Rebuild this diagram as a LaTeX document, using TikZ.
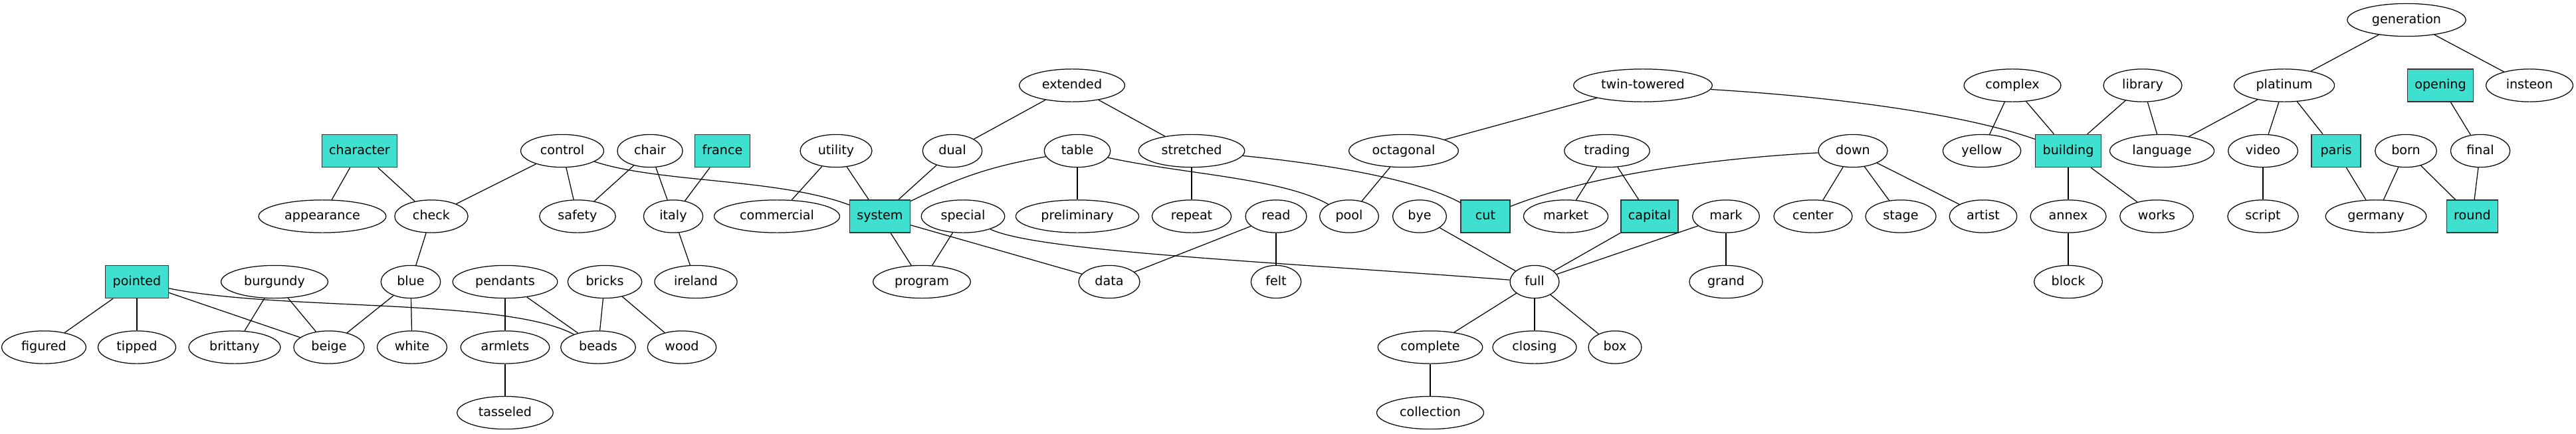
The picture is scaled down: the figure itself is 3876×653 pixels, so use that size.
\documentclass[tikz,border=0pt]{standalone}
\usepackage{fontspec}
\setmainfont{DejaVu Sans}
\usetikzlibrary{shapes.geometric}
\definecolor{turq}{HTML}{40E0D0}
\definecolor{boxline}{HTML}{333333}
\begin{document}
\begin{tikzpicture}[x=0.7310pt,y=-0.7310pt,
  nd/.style={ellipse,draw=black,line width=0.9pt,minimum width=54pt,minimum height=36pt,
    inner xsep=8pt,inner ysep=4pt,font=\fontsize{14}{16}\selectfont,text height=10.5pt,text depth=3pt},
  bx/.style={rectangle,draw=boxline,fill=turq,line width=1pt,minimum width=54pt,minimum height=36pt,
    inner xsep=8pt,inner ysep=4pt,font=\fontsize{14}{16}\selectfont,text height=10.5pt,text depth=3pt},
  ed/.style={line width=0.9pt,draw=black}]
\useasboundingbox (0,0) rectangle (3876,653);
% rank 0
\node[nd] (generation) at (3621,30) {generation};
% rank 1
\node[nd] (extended) at (1613,128.5) {extended};
\node[nd] (twintowered) at (2472,128.5) {twin-towered};
\node[nd] (complex) at (3028,128.5) {complex};
\node[nd] (library) at (3224,128.5) {library};
\node[nd] (platinum) at (3437,128.5) {platinum};
\node[bx] (opening) at (3672,128.5) {opening};
\node[nd] (insteon) at (3806,128.5) {insteon};
% rank 2
\node[bx] (character) at (541,227) {character};
\node[nd] (control) at (846,227) {control};
\node[nd] (chair) at (978,227) {chair};
\node[bx] (france) at (1087,227) {france};
\node[nd] (utility) at (1258,227) {utility};
\node[nd] (dual) at (1433,227) {dual};
\node[nd] (table) at (1621,227) {table};
\node[nd] (stretched) at (1793,227) {stretched};
\node[nd] (octagonal) at (2112,227) {octagonal};
\node[nd] (trading) at (2418,227) {trading};
\node[nd] (down) at (2788,227) {down};
\node[nd] (yellow) at (2982,227) {yellow};
\node[bx] (building) at (3112,227) {building};
\node[nd] (language) at (3253,227) {language};
\node[nd] (video) at (3405,227) {video};
\node[bx] (paris) at (3515,227) {paris};
\node[nd] (born) at (3620,227) {born};
\node[nd] (final) at (3732,227) {final};
% rank 3
\node[nd] (appearance) at (485,325.5) {appearance};
\node[nd] (check) at (649,325.5) {check};
\node[nd] (safety) at (869,325.5) {safety};
\node[nd] (italy) at (1013,325.5) {italy};
\node[nd] (commercial) at (1169,325.5) {commercial};
\node[bx] (system) at (1324,325.5) {system};
\node[nd] (special) at (1449,325.5) {special};
\node[nd] (preliminary) at (1621,325.5) {preliminary};
\node[nd] (repeat) at (1793,325.5) {repeat};
\node[nd] (read) at (1920,325.5) {read};
\node[nd] (pool) at (2030,325.5) {pool};
\node[nd] (bye) at (2136,325.5) {bye};
\node[bx] (cut) at (2235,325.5) {cut};
\node[nd] (market) at (2356,325.5) {market};
\node[bx] (capital) at (2482,325.5) {capital};
\node[nd] (mark) at (2597,325.5) {mark};
\node[nd] (center) at (2728,325.5) {center};
\node[nd] (stage) at (2860,325.5) {stage};
\node[nd] (artist) at (2984,325.5) {artist};
\node[nd] (annex) at (3112,325.5) {annex};
\node[nd] (works) at (3245,325.5) {works};
\node[nd] (script) at (3405,325.5) {script};
\node[nd] (germany) at (3575,325.5) {germany};
\node[bx] (round) at (3720,325.5) {round};
% rank 4
\node[bx] (pointed) at (206,424) {pointed};
\node[nd] (burgundy) at (413,424) {burgundy};
\node[nd] (blue) at (618,424) {blue};
\node[nd] (pendants) at (760,424) {pendants};
\node[nd] (bricks) at (910,424) {bricks};
\node[nd] (ireland) at (1047,424) {ireland};
\node[nd] (program) at (1387,424) {program};
\node[nd] (data) at (1669,424) {data};
\node[nd] (felt) at (1920,424) {felt};
\node[nd] (full) at (2309,424) {full};
\node[nd] (grand) at (2597,424) {grand};
\node[nd] (block) at (3112,424) {block};
% rank 5
\node[nd] (figured) at (66,522.5) {figured};
\node[nd] (tipped) at (206,522.5) {tipped};
\node[nd] (brittany) at (353,522.5) {brittany};
\node[nd] (beige) at (495,522.5) {beige};
\node[nd] (white) at (620,522.5) {white};
\node[nd] (armlets) at (760,522.5) {armlets};
\node[nd] (beads) at (900,522.5) {beads};
\node[nd] (wood) at (1026,522.5) {wood};
\node[nd] (complete) at (2152,522.5) {complete};
\node[nd] (closing) at (2309,522.5) {closing};
\node[nd] (box) at (2430,522.5) {box};
% rank 6
\node[nd] (tasseled) at (760,621) {tasseled};
\node[nd] (collection) at (2152,621) {collection};
% edges
\draw[ed] (character) -- (appearance);
\draw[ed] (character) -- (check);
\draw[ed] (check) -- (blue);
\draw[ed] (pointed) -- (figured);
\draw[ed] (pointed) -- (tipped);
\draw[ed] (pointed) -- (beige);
\draw[ed] (pointed) .. controls (420,468) and (760,448) .. (beads);
\draw[ed] (burgundy) -- (brittany);
\draw[ed] (burgundy) -- (beige);
\draw[ed] (blue) -- (beige);
\draw[ed] (blue) -- (white);
\draw[ed] (control) -- (check);
\draw[ed] (control) -- (safety);
\draw[ed] (control) .. controls (990,275) and (1170,268) .. (system);
\draw[ed] (chair) -- (safety);
\draw[ed] (chair) -- (italy);
\draw[ed] (france) -- (italy);
\draw[ed] (italy) -- (ireland);
\draw[ed] (utility) -- (commercial);
\draw[ed] (utility) -- (system);
\draw[ed] (pendants) -- (armlets);
\draw[ed] (pendants) -- (beads);
\draw[ed] (bricks) -- (beads);
\draw[ed] (bricks) -- (wood);
\draw[ed] (armlets) -- (tasseled);
\draw[ed] (extended) -- (dual);
\draw[ed] (extended) -- (stretched);
\draw[ed] (dual) -- (system);
\draw[ed] (table) to[bend right=8] (system);
\draw[ed] (table) -- (preliminary);
\draw[ed] (table) .. controls (1780,262) and (1930,268) .. (pool);
\draw[ed] (stretched) -- (repeat);
\draw[ed] (stretched) .. controls (1980,245) and (2130,268) .. (cut);
\draw[ed] (system) -- (program);
\draw[ed] (system) -- (data);
\draw[ed] (special) -- (program);
\draw[ed] (special) .. controls (1560,378) and (1900,393) .. (full);
\draw[ed] (read) -- (data);
\draw[ed] (read) -- (felt);
\draw[ed] (twintowered) -- (octagonal);
\draw[ed] (twintowered) .. controls (2750,145) and (2950,170) .. (building);
\draw[ed] (octagonal) -- (pool);
\draw[ed] (trading) -- (market);
\draw[ed] (trading) -- (capital);
\draw[ed] (down) .. controls (2550,240) and (2380,268) .. (cut);
\draw[ed] (bye) -- (full);
\draw[ed] (capital) -- (full);
\draw[ed] (mark) -- (full);
\draw[ed] (mark) -- (grand);
\draw[ed] (full) -- (complete);
\draw[ed] (full) -- (closing);
\draw[ed] (full) -- (box);
\draw[ed] (complete) -- (collection);
\draw[ed] (down) -- (center);
\draw[ed] (down) -- (stage);
\draw[ed] (down) -- (artist);
\draw[ed] (complex) -- (yellow);
\draw[ed] (complex) -- (building);
\draw[ed] (library) -- (building);
\draw[ed] (library) -- (language);
\draw[ed] (building) -- (annex);
\draw[ed] (building) -- (works);
\draw[ed] (annex) -- (block);
\draw[ed] (generation) -- (platinum);
\draw[ed] (generation) -- (insteon);
\draw[ed] (platinum) -- (language);
\draw[ed] (platinum) -- (video);
\draw[ed] (platinum) -- (paris);
\draw[ed] (opening) -- (final);
\draw[ed] (video) -- (script);
\draw[ed] (paris) -- (germany);
\draw[ed] (born) -- (germany);
\draw[ed] (born) -- (round);
\draw[ed] (final) -- (round);
\end{tikzpicture}
\end{document}
